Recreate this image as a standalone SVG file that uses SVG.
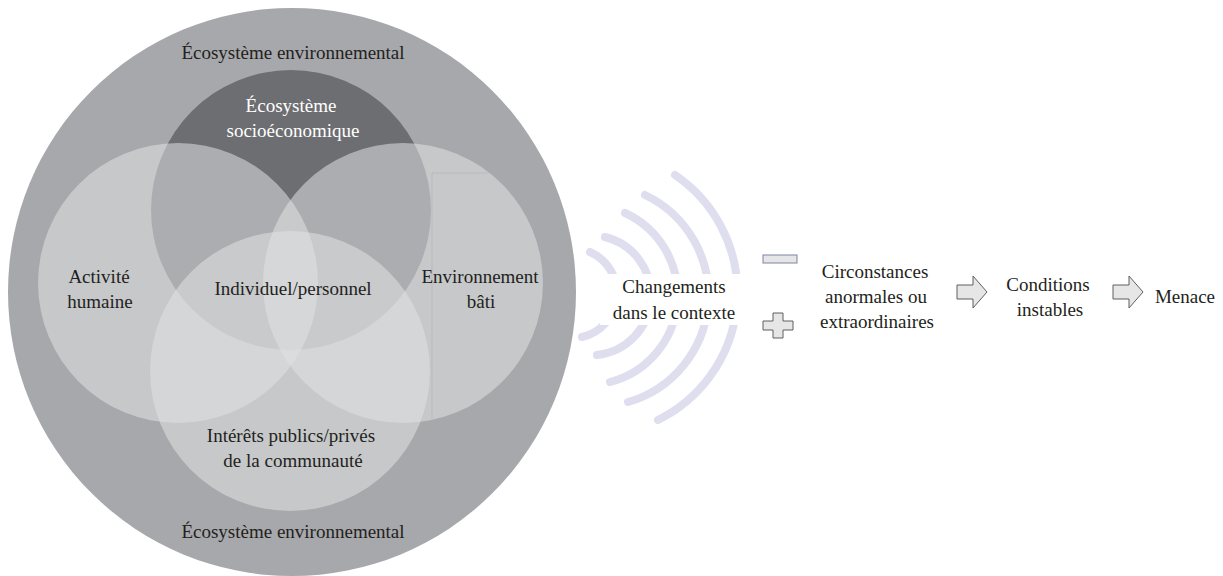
<svg xmlns="http://www.w3.org/2000/svg" width="1223" height="576" viewBox="0 0 1223 576">
<style>
text{font-family:"Liberation Serif","Times New Roman",serif;font-size:19px;fill:#231f20;text-anchor:middle}
.w{fill:#ffffff}
.lc{fill:#e0e1e3;fill-opacity:0.55}
.wave{fill:none;stroke:#dedeee;stroke-width:8;stroke-linecap:round}
.blk{fill:#e6e6e6;stroke:#5f5f5f;stroke-width:1}
</style>
<rect width="1223" height="576" fill="#ffffff"/>
<g id="outer">
<circle cx="292" cy="292" r="284" fill="#a7a8ab"/>
<text x="293" y="59">Écosystème environnemental</text>
<text x="293" y="538">Écosystème environnemental</text>
</g>
<g id="socioeconomique">
<circle cx="291" cy="210" r="140" fill="#6d6e71"/>
</g>
<g id="activite">
<circle class="lc" cx="178" cy="283" r="140"/>
</g>
<g id="environnement-bati">
<circle class="lc" cx="403" cy="283" r="140"/>
<path d="M490 173H432V420" fill="none" stroke="#b9babc" stroke-width="1"/>
</g>
<g id="interets">
<circle class="lc" cx="290" cy="371" r="140"/>
</g>
<g id="labels">
<text class="w" x="291" y="112">Écosystème</text>
<text class="w" x="293" y="137">socioéconomique</text>
<text x="99" y="283">Activité</text>
<text x="100" y="308">humaine</text>
<text x="293" y="295">Individuel/personnel</text>
<text x="480" y="283">Environnement</text>
<text x="481" y="308">bâti</text>
<text x="291" y="442">Intérêts publics/privés</text>
<text x="293" y="467">de la communauté</text>
</g>
<g id="waves">
<path class="wave" d="M590 252A45 45 0 0 1 582 337"/>
<path class="wave" d="M605 237A60 60 0 0 1 597 355"/>
<path class="wave" d="M625 213A90 90 0 0 1 610 382"/>
<path class="wave" d="M645 195A111 111 0 0 1 628 402"/>
<path class="wave" d="M675 175A142 142 0 0 1 658 420"/>
</g>
<g id="changements">
<rect x="600" y="274" width="145" height="51" fill="#ffffff"/>
<text x="674" y="293">Changements</text>
<text x="674" y="319">dans le contexte</text>
</g>
<g id="minus">
<rect x="763" y="255" width="34" height="8" fill="#e6e6e8" stroke="#7c84a4" stroke-width="1"/>
</g>
<g id="plus">
<path class="blk" d="M773 313H783V321H793V330H783V338H773V330H763V321H773Z"/>
</g>
<g id="circonstances">
<text x="875" y="278">Circonstances</text>
<text x="876" y="303">anormales ou</text>
<text x="877" y="328">extraordinaires</text>
</g>
<g id="conditions">
<text x="1048" y="291">Conditions</text>
<text x="1050" y="316">instables</text>
</g>
<g id="menace">
<text x="1185" y="303">Menace</text>
</g>
<g id="connectors">
<path class="blk" d="M957 285H973V276L987 292L973 308V299H957Z"/>
<path class="blk" d="M1113 285H1129V276L1143 292L1129 308V299H1113Z"/>
</g>
</svg>
